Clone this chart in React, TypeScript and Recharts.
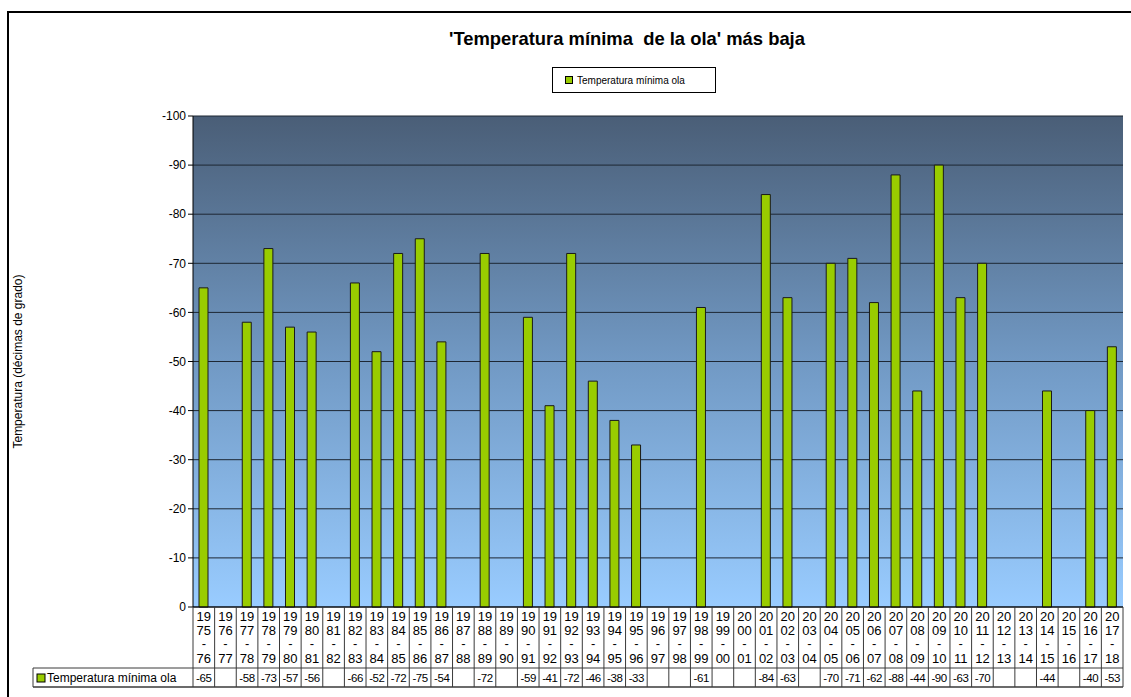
import { BarChart, Bar, XAxis, YAxis, CartesianGrid } from 'recharts';

// temporadas (eje de categorías)
const seasons = [
  '1975-76', '1976-77', '1977-78', '1978-79', '1979-80', '1980-81', '1981-82', '1982-83',
  '1983-84', '1984-85', '1985-86', '1986-87', '1987-88', '1988-89', '1989-90', '1990-91',
  '1991-92', '1992-93', '1993-94', '1994-95', '1995-96', '1996-97', '1997-98', '1998-99',
  '1999-00', '2000-01', '2001-02', '2002-03', '2003-04', '2004-05', '2005-06', '2006-07',
  '2007-08', '2008-09', '2009-10', '2010-11', '2011-12', '2012-13', '2013-14', '2014-15',
  '2015-16', '2016-17', '2017-18',
];

// décimas de grado; null = sin ola ese invierno
const minTemps: (number | null)[] = [
  -65, null, -58, -73, -57, -56, null, -66,
  -52, -72, -75, -54, null, -72, null, -59,
  -41, -72, -46, -38, -33, null, null, -61,
  null, null, -84, -63, null, -70, -71, -62,
  -88, -44, -90, -63, -70, null, null, -44,
  null, -40, -53,
];

const yTicks = [-100, -90, -80, -70, -60, -50, -40, -30, -20, -10, 0];

const SERIES_NAME = 'Temperatura mínima ola';
const TITLE = "'Temperatura mínima  de la ola' más baja";
const Y_LABEL = 'Temperatura (décimas de grado)';

const FONT = 'Arial, "Liberation Sans", sans-serif';
const GREEN = '#99cc00';
const LINE = '#3a3a3a';

const W = 1131;
const H = 697;
const PLOT_LEFT = 193;
const PLOT_RIGHT = 1123;
const BAND = (PLOT_RIGHT - PLOT_LEFT) / seasons.length;
const KEY_LEFT = 33;

const data = seasons.map((season, i) => ({ season, temp: minTemps[i] }));

function SeasonTick(props: any) {
  const { x, y, payload } = props;
  const season: string = payload.value;
  const i = seasons.indexOf(season);
  const v = minTemps[i];
  const half = BAND / 2;
  const lines = [season.slice(0, 2), season.slice(2, 4), '-', season.slice(5)];
  const offs = [9, 23, 36, 51];
  return (
    <g fontFamily={FONT}>
      {i === 0 && (
        <g>
          <line x1={x - half} y1={y} x2={x - half} y2={y + 80} stroke={LINE} />
          <line x1={KEY_LEFT} y1={y + 61} x2={PLOT_RIGHT} y2={y + 61} stroke={LINE} />
          <line x1={KEY_LEFT} y1={y + 80} x2={PLOT_RIGHT} y2={y + 80} stroke={LINE} strokeWidth={1.5} />
          <line x1={KEY_LEFT} y1={y + 61} x2={KEY_LEFT} y2={y + 80} stroke={LINE} />
          <rect x={KEY_LEFT + 4} y={y + 67} width={8} height={8} fill={GREEN} stroke="#000" />
          <text x={KEY_LEFT + 14} y={y + 71} dominantBaseline="central" fontSize={12} fill="#000">
            {SERIES_NAME}
          </text>
        </g>
      )}
      {lines.map((t, k) => (
        <text key={k} x={x} y={y + offs[k]} textAnchor="middle" dominantBaseline="central" fontSize={13} fill="#000">
          {t}
        </text>
      ))}
      <line x1={x + half} y1={y} x2={x + half} y2={y + 80} stroke={LINE} />
      {v != null && (
        <text x={x} y={y + 71} textAnchor="middle" dominantBaseline="central" fontSize={11.5} fill="#000" letterSpacing={-0.4}>
          {v}
        </text>
      )}
    </g>
  );
}

export default function App() {
  return (
    <div style={{ position: 'absolute', left: 0, top: 0, width: W, height: H, background: '#fff', overflow: 'hidden' }}>
      <BarChart
        width={W}
        height={H}
        data={data}
        margin={{ top: 116, right: W - PLOT_RIGHT, bottom: 10, left: PLOT_LEFT - 60 }}
        barCategoryGap={0}
      >
        <defs>
          <linearGradient id="plotBg" x1="0" y1="0" x2="0" y2="1">
            <stop offset="0%" stopColor="#4a5e77" />
            <stop offset="50%" stopColor="#7199c4" />
            <stop offset="100%" stopColor="#99ccff" />
          </linearGradient>
        </defs>
        <CartesianGrid vertical={false} stroke="#1d2733" strokeOpacity={1} fill="url(#plotBg)" fillOpacity={1} />
        <XAxis
          dataKey="season"
          height={80}
          interval={0}
          tickLine={false}
          tickSize={0}
          tickMargin={0}
          axisLine={{ stroke: '#000' }}
          tick={(p: any) => <SeasonTick {...p} />}
        />
        <YAxis
          width={60}
          domain={[-100, 0]}
          reversed
          ticks={yTicks}
          interval={0}
          tickSize={5}
          axisLine={{ stroke: '#000' }}
          tickLine={{ stroke: '#000' }}
          tick={{ fontFamily: FONT, fontSize: 12, fill: '#000' }}
          label={{
            value: Y_LABEL,
            angle: -90,
            position: 'left',
            offset: 115,
            style: { fontFamily: FONT, fontSize: 12, fill: '#000', textAnchor: 'middle' },
          }}
        />
        <Bar dataKey="temp" name={SERIES_NAME} fill={GREEN} stroke="#1a1a1a" strokeWidth={1} barSize={9} isAnimationActive={false} />
      </BarChart>

      <div
        style={{
          position: 'absolute', left: 7, top: 11, width: 1200, height: 800,
          borderLeft: '2px solid #000', borderTop: '2px solid #000', pointerEvents: 'none',
        }}
      />
      <div
        style={{
          position: 'absolute', left: 377, top: 28, width: 500, textAlign: 'center',
          fontFamily: FONT, fontWeight: 'bold', fontSize: 18.4, color: '#000', whiteSpace: 'pre',
        }}
      >
        {TITLE}
      </div>
      <div
        style={{
          position: 'absolute', left: 552, top: 67, width: 162, height: 24, border: '1px solid #000',
          boxSizing: 'content-box', display: 'flex', alignItems: 'center', fontFamily: FONT, fontSize: 10, color: '#000',
        }}
      >
        <span style={{ display: 'inline-block', width: 6, height: 6, background: GREEN, border: '1px solid #000', marginLeft: 12, marginRight: 4 }} />
        {SERIES_NAME}
      </div>
    </div>
  );
}
